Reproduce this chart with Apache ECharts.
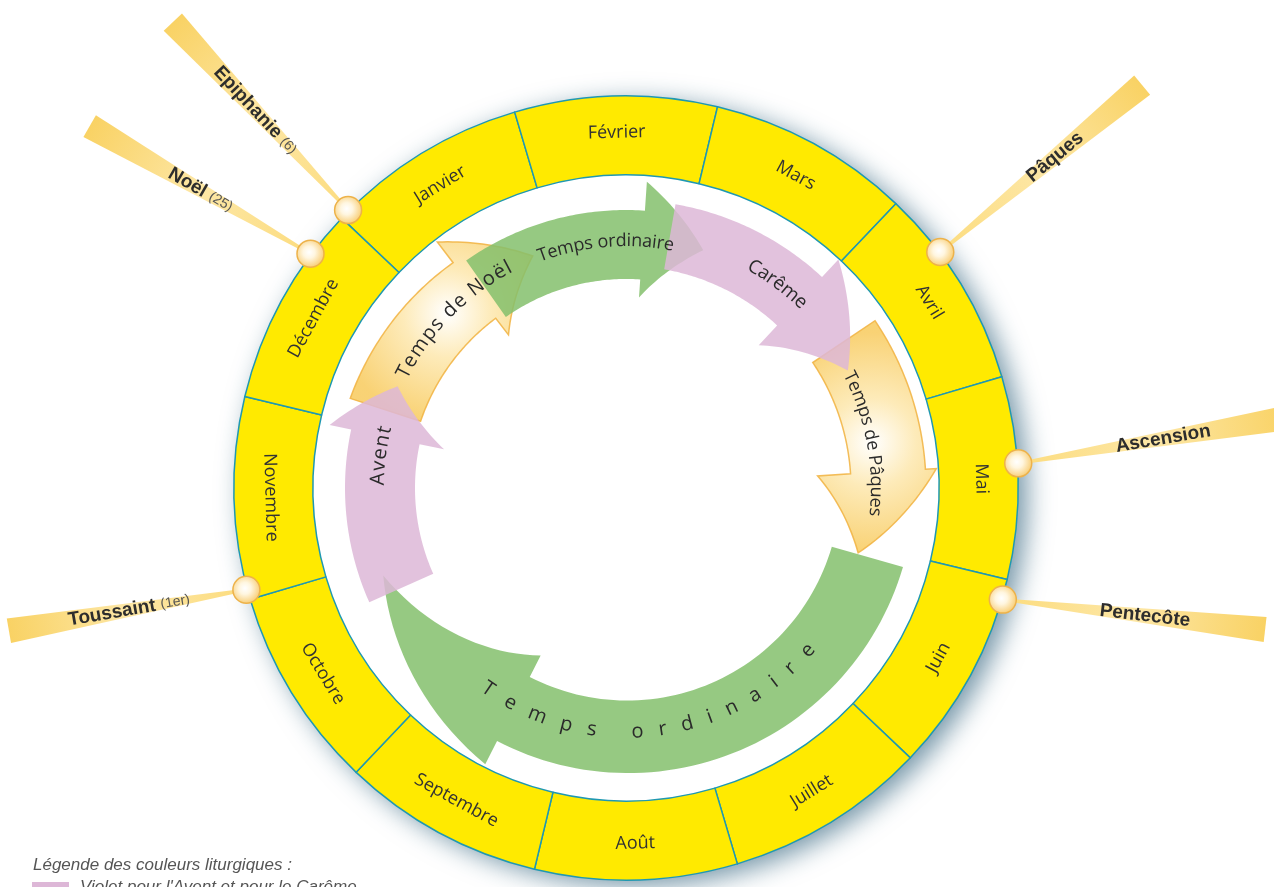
<!DOCTYPE html>
<html>
<head>
<meta charset="utf-8">
<script src="https://cdn.jsdelivr.net/npm/echarts@6/dist/echarts.min.js"></script>
<style>
html,body{margin:0;padding:0;background:#ffffff;}
#chart{width:1274px;height:887px;}
</style>
</head>
<body>
<div id="chart"></div>
<script>
// ================= DATA =================
const months = ['Janvier','Février','Mars','Avril','Mai','Juin','Juillet','Août','Septembre','Octobre','Novembre','Décembre'];
const monthWeights = [1,1,1,1,1,1,1,1,1,1,1,1];

// feasts: position on the year wheel in months (0 = 1st January)
const feastNames = ['Epiphanie','Noël','Pâques','Ascension','Pentecôte','Toussaint'];
const feastNotes = ['(6)','(25)','','','','(1er)'];
const feastPositions = [0.05, 11.77, 3.32, 4.43, 5.10, 10.05];

// liturgical seasons (start / end on the year wheel, in months)
const seasonLabels = ['Temps ordinaire','Avent','Temps de Noël','Temps ordinaire','Carême','Temps de Pâques'];
const seasonStarts = [5.08, 9.75, 11.15, 0.38, 1.88, 3.42];
const seasonEnds   = [9.89, 11.35, 0.82, 2.15, 3.62, 5.07];
const seasonColours = ['vert','violet','blanc','vert','violet','blanc'];

const legendTitle = 'Légende des couleurs liturgiques :';
const legendLabels = ["Violet pour l'Avent et pour le Carême"];

// ================= LAYOUT / STYLE =================
const CENTER = [626, 488];
const RING_OUT = 392, RING_IN = 313;
const START_ANGLE = 136.5;
const palette = {
  vert: '#84BF6C',
  violet: '#DDB7D7',
  blancStroke: '#F1B444'
};
// per arrow: rInTail, rOutTail, rInHead, rOutHead, barbIn, barbOut, tipR, headLen(months)
const arrowGeom = [
  [214, 288, 212, 284, 188, 310, 258, 1.44],
  [211, 281, 211, 281, 186, 303, 250, 0.40],
  [216, 290, 214, 284, 193, 310, 250, 0.52],
  [209, 278, 209, 278, 191, 307, 250, 0.47],
  [222, 288, 222, 288, 195, 312, 251, 0.64],
  [225, 300, 225, 300, 192, 311, 241, 0.64]
];
// drawing order of the arrows (higher = on top)
const arrowZ = [1, 5, 2, 4, 6, 3];
// per arrow label: position (months), radius, direction, font size, letter spacing
const arrowText = [
  [7.32, 244, 'ccw', 20, 15],
  [10.80, 248, 'cw', 20, 1.5],
  [0.03, 250, 'cw', 20, 1.5],
  [1.39, 247, 'cw', 18, 0],
  [2.77, 255, 'cw', 19, 0],
  [4.20, 250, 'cw', 18, 0]
];
const feastRayAngle = [133, 150, 39.6, 9.6, -6.5, 189.8];
const feastRayLen = [257, 255, 262, 275, 264, 241];
const feastLabelDist = [136, 127, 149, 147, 143, 119];

const FONT_FAMILY = '"Open Sans", "DejaVu Sans", sans-serif';
const ARIAL = '"Liberation Sans", Arial, sans-serif';

const measureCtx = document.createElement('canvas').getContext('2d');

function arcText(cx, cy, r, theta, str, fontSize, spacing, dir, color) {
  const font = fontSize + 'px ' + FONT_FAMILY;
  measureCtx.font = font;
  const chars = Array.from(str);
  const ws = chars.map(ch => measureCtx.measureText(ch).width);
  const total = ws.reduce((a, b) => a + b, 0) + spacing * (chars.length - 1);
  const sign = dir === 'cw' ? -1 : 1;
  const start = theta - sign * (total / 2) / r;
  let acc = 0;
  const els = [];
  chars.forEach((ch, i) => {
    const a = start + sign * (acc + ws[i] / 2) / r;
    acc += ws[i] + spacing;
    if (ch === ' ') return;
    const x = cx + r * Math.cos(a), y = cy - r * Math.sin(a);
    const rot = dir === 'cw' ? a - Math.PI / 2 : a + Math.PI / 2;
    els.push({
      type: 'text', x: x, y: y, rotation: rot, silent: true,
      style: {
        text: ch, font: font, fill: color, textFill: color,
        align: 'center', verticalAlign: 'middle',
        textAlign: 'center', textVerticalAlign: 'middle'
      }
    });
  });
  return els;
}

function wrap(p) { return ((p % 12) + 12) % 12; }

function renderArrow(params, api) {
  const i = params.dataIndex;
  const g = arrowGeom[i];
  const [rInT, rOutT, rInH, rOutH, barbIn, barbOut, tipR, headLen] = g;
  const start = seasonStarts[i];
  let end = seasonEnds[i];
  if (end < start) end += 12;
  const base = end - headLen;
  const pt = (r, p) => api.coord([r, wrap(p)]);
  const pts = [];
  const N = 60, M = 20;
  for (let k = 0; k <= N; k++) {
    const t = k / N;
    pts.push(pt(rOutT + (rOutH - rOutT) * t, start + (base - start) * t));
  }
  pts.push(pt(barbOut, base));
  for (let k = 1; k <= M; k++) {
    const t = k / M;
    pts.push(pt(barbOut + (tipR - barbOut) * t, base + (end - base) * t));
  }
  for (let k = 1; k <= M; k++) {
    const t = k / M;
    pts.push(pt(tipR + (barbIn - tipR) * t, end + (base - end) * t));
  }
  pts.push(pt(rInH, base));
  for (let k = 0; k <= N; k++) {
    const t = k / N;
    pts.push(pt(rInH + (rInT - rInH) * t, base + (start - base) * t));
  }
  const txt = arrowText[i];
  const lp = pt(txt[1], txt[0]);
  const colour = seasonColours[i];
  let style;
  if (colour === 'blanc') {
    style = {
      fill: new echarts.graphic.RadialGradient(lp[0], lp[1], 110, [
        { offset: 0, color: '#FFFFFF' },
        { offset: 0.4, color: '#FDE8B0' },
        { offset: 1, color: '#F8CC62' }
      ], true),
      stroke: palette.blancStroke, lineWidth: 1.5, opacity: 0.88
    };
  } else {
    style = { fill: palette[colour], opacity: 0.85 };
  }
  return { type: 'polygon', z2: arrowZ[i], shape: { points: pts }, style: style, silent: true };
}

function renderArrowLabel(params, api) {
  const i = params.dataIndex;
  const txt = arrowText[i];
  const c = api.coord([0, 0]);
  const lp = api.coord([txt[1], wrap(txt[0])]);
  const theta = Math.atan2(c[1] - lp[1], lp[0] - c[0]);
  const rpx = Math.hypot(lp[0] - c[0], lp[1] - c[1]);
  return { type: 'group', children: arcText(c[0], c[1], rpx, theta, seasonLabels[i], txt[3], txt[4], txt[2], '#2a2a2a') };
}

function renderFeast(params, api) {
  const i = params.dataIndex;
  const p0 = api.coord([RING_OUT + 1, feastPositions[i]]);
  const a = feastRayAngle[i] * Math.PI / 180;
  const ux = Math.cos(a), uy = -Math.sin(a);
  const nx = -uy, ny = ux;
  const len = feastRayLen[i];
  const p1 = [p0[0] + ux * len, p0[1] + uy * len];
  const w0 = 1.2, w1 = 12.5;
  const ray = {
    type: 'polygon', silent: true,
    shape: { points: [
      [p0[0] + nx * w0, p0[1] + ny * w0],
      [p1[0] + nx * w1, p1[1] + ny * w1],
      [p1[0] - nx * w1, p1[1] - ny * w1],
      [p0[0] - nx * w0, p0[1] - ny * w0]
    ] },
    style: {
      fill: new echarts.graphic.LinearGradient(p0[0], p0[1], p1[0], p1[1], [
        { offset: 0, color: '#FCDC7E' },
        { offset: 0.5, color: '#FDE7A6' },
        { offset: 1, color: '#F9D264' }
      ], true)
    }
  };
  const pearl = {
    type: 'circle', silent: true,
    shape: { cx: p0[0], cy: p0[1], r: 13.5 },
    style: {
      fill: new echarts.graphic.RadialGradient(0.45, 0.45, 0.6, [
        { offset: 0, color: '#FFFFFF' },
        { offset: 0.35, color: '#FFF6E0' },
        { offset: 1, color: '#F7C764' }
      ]),
      stroke: '#EDB24A', lineWidth: 1.5
    }
  };
  const d = feastLabelDist[i];
  const lx = p0[0] + ux * d, ly = p0[1] + uy * d;
  let rot = a;
  if (Math.cos(a) < 0) rot = a + Math.PI;
  const txt = feastNotes[i] ? '{b|' + feastNames[i] + '} {n|' + feastNotes[i] + '}' : '{b|' + feastNames[i] + '}';
  const label = {
    type: 'text', silent: true, x: lx, y: ly, rotation: rot,
    style: {
      text: txt,
      align: 'center', verticalAlign: 'middle',
      textAlign: 'center', textVerticalAlign: 'middle',
      fill: '#2d2d2d', textFill: '#2d2d2d',
      font: 'bold 19px ' + ARIAL,
      rich: {
        b: { fontSize: 19, fontWeight: 'bold', fontFamily: ARIAL, fill: '#2d2d2d', textFill: '#2d2d2d' },
        n: { fontSize: 14, fontWeight: 'normal', fontFamily: ARIAL, fill: '#555555', textFill: '#555555' }
      }
    }
  };
  return { type: 'group', children: [ray, pearl, label] };
}

const chart = echarts.init(document.getElementById('chart'), null, { renderer: 'canvas' });

const option = {
  backgroundColor: '#ffffff',
  animation: false,
  polar: { center: CENTER, radius: RING_OUT },
  angleAxis: { type: 'value', min: 0, max: 12, startAngle: START_ANGLE, clockwise: true, show: false },
  radiusAxis: { type: 'value', min: 0, max: RING_OUT, show: false },
  graphic: [
    { type: 'text', left: 33, top: 857, silent: true,
      style: { text: legendTitle, font: 'italic 17px ' + ARIAL, fill: '#555555', textFill: '#555555' } },
    { type: 'rect', left: 32, top: 882, silent: true, shape: { width: 37, height: 12 }, style: { fill: palette.violet } },
    { type: 'text', left: 80, top: 879, silent: true,
      style: { text: legendLabels[0], font: 'italic 17px ' + ARIAL, fill: '#555555', textFill: '#555555' } }
  ],
  series: [
    {
      type: 'pie', silent: true, z: 1,
      center: CENTER, radius: [0, RING_OUT],
      label: { show: false }, labelLine: { show: false },
      emphasis: { disabled: true },
      data: [{ value: 1, name: 'fond', itemStyle: {
        color: '#ffffff', shadowBlur: 26, shadowColor: 'rgba(25,80,110,0.6)', shadowOffsetX: 9, shadowOffsetY: 6 } }]
    },
    {
      type: 'pie', silent: true, z: 2,
      center: CENTER, radius: [RING_IN, RING_OUT],
      startAngle: START_ANGLE, clockwise: true,
      avoidLabelOverlap: false,
      emphasis: { disabled: true },
      itemStyle: { color: '#FFEA00', borderColor: '#1F98B2', borderWidth: 1.5 },
      label: { show: true, position: 'inside', rotate: 'tangential', formatter: '{b}',
        color: '#333333', fontSize: 18, fontFamily: FONT_FAMILY },
      labelLine: { show: false },
      data: months.map((m, i) => ({ name: m, value: monthWeights[i] }))
    },
    {
      type: 'custom', coordinateSystem: 'polar', z: 3, silent: true,
      renderItem: renderArrow,
      data: seasonStarts.map((s, i) => [250, s])
    },
    {
      type: 'custom', coordinateSystem: 'polar', z: 4, silent: true,
      renderItem: renderArrowLabel,
      data: seasonStarts.map((s, i) => [250, s])
    },
    {
      type: 'custom', coordinateSystem: 'polar', z: 5, silent: true,
      renderItem: renderFeast,
      data: feastPositions.map(p => [RING_OUT, p])
    }
  ]
};
chart.setOption(option);
</script>
</body>
</html>
